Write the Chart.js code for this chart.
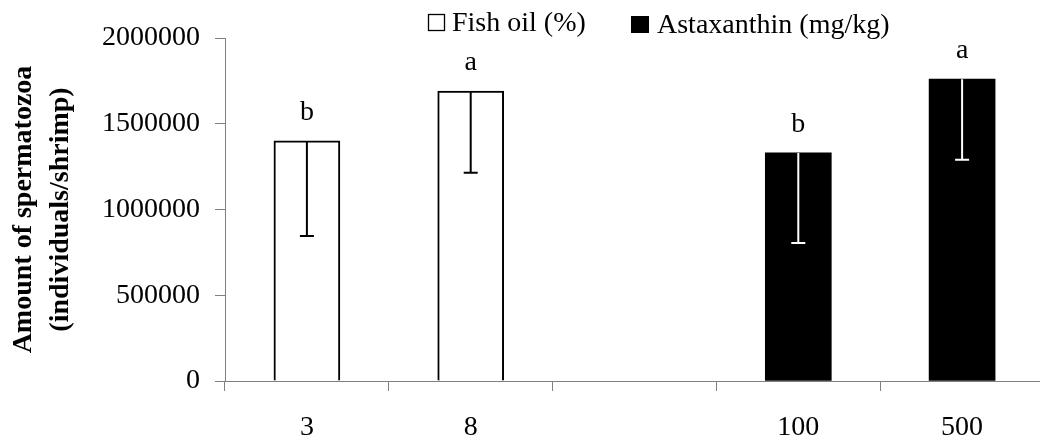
<!DOCTYPE html>
<html>
<head>
<meta charset="utf-8">
<script src="https://cdn.jsdelivr.net/npm/chart.js@4.4.1/dist/chart.umd.min.js"></script>
<style>
  html, body { margin: 0; padding: 0; background: #fff; overflow: hidden; }
  #wrap { width: 1040px; height: 441px; overflow: hidden; }
  canvas { display: block; }
</style>
</head>
<body>
<div id="wrap">
  <canvas id="c" width="1044" height="441" style="width:1044px;height:441px"></canvas>
</div>
<script>
// Dose levels on the x axis (the empty slot separates the two treatments)
const categories = ['3', '8', '', '100', '500'];

// Mean sperm count per shrimp
const fishOil = [1400000, 1690000, null, null, null];
const astaxanthin = [null, null, null, 1330000, 1760000];

// Standard deviation, drawn downward from the bar top
const fishOilErr = [555000, 475000, null, null, null];
const astaxanthinErr = [null, null, null, 525000, 470000];

// Significance letters above each bar
const fishOilLetters = ['b', 'a', null, null, null];
const astaxanthinLetters = [null, null, null, 'b', 'a'];

// Y axis ticks
const yTicks = [0, 500000, 1000000, 1500000, 2000000];

const seriesNames = ['Fish oil (%)', 'Astaxanthin (mg/kg)'];
const errors = [fishOilErr, astaxanthinErr];
const letters = [fishOilLetters, astaxanthinLetters];
const errColors = ['#000000', '#ffffff'];

const SERIF = "'Liberation Serif', 'Times New Roman', serif";
Chart.defaults.font.family = SERIF;
Chart.defaults.color = '#000';

// Error bars (downward only) and significance letters
const annotatePlugin = {
  id: 'annotate',
  afterDatasetsDraw(chart) {
    const ctx = chart.ctx;
    const y = chart.scales.y;
    chart.data.datasets.forEach((ds, di) => {
      const meta = chart.getDatasetMeta(di);
      meta.data.forEach((el, i) => {
        const v = ds.data[i];
        if (v === null || v === undefined) return;
        const top = y.getPixelForValue(v);
        const err = errors[di][i];
        if (err) {
          const bot = y.getPixelForValue(v - err);
          ctx.save();
          ctx.strokeStyle = errColors[di];
          ctx.lineWidth = 2;
          ctx.beginPath();
          ctx.moveTo(el.x, top);
          ctx.lineTo(el.x, bot);
          ctx.moveTo(el.x - 7, bot);
          ctx.lineTo(el.x + 7, bot);
          ctx.stroke();
          ctx.restore();
        }
        const lt = letters[di][i];
        if (lt) {
          ctx.save();
          ctx.fillStyle = '#000';
          ctx.font = '28px ' + SERIF;
          ctx.textAlign = 'center';
          ctx.textBaseline = 'alphabetic';
          ctx.fillText(lt, el.x, top - 21);
          ctx.restore();
        }
      });
    });
  }
};

// Legend: open square for fish oil, filled square for astaxanthin
const legendPlugin = {
  id: 'legendRow',
  afterDraw(chart) {
    const ctx = chart.ctx;
    ctx.save();
    ctx.font = '28px ' + SERIF;
    ctx.fillStyle = '#000';
    ctx.textBaseline = 'alphabetic';
    ctx.textAlign = 'left';
    ctx.strokeStyle = '#000';
    ctx.lineWidth = 1.3;
    ctx.strokeRect(428.5, 14.5, 16, 16);
    ctx.fillText(seriesNames[0], 452, 31);
    ctx.fillRect(631, 16, 18, 17);
    ctx.fillText(seriesNames[1], 657, 33);
    ctx.restore();
  }
};

new Chart(document.getElementById('c'), {
  type: 'bar',
  data: {
    labels: categories,
    datasets: [
      {
        label: seriesNames[0],
        data: fishOil,
        backgroundColor: '#ffffff',
        borderColor: '#000000',
        borderWidth: 2,
        borderSkipped: 'start'
      },
      {
        label: seriesNames[1],
        data: astaxanthin,
        backgroundColor: '#000000',
        borderColor: '#000000',
        borderWidth: 0
      }
    ]
  },
  options: {
    responsive: false,
    devicePixelRatio: 1,
    animation: false,
    datasets: { bar: { grouped: false, barThickness: 66 } },
    layout: { padding: { top: 38, left: 0, right: 0, bottom: 0 } },
    plugins: {
      legend: { display: false },
      tooltip: { enabled: false }
    },
    scales: {
      x: {
        offset: true,
        grid: {
          offset: true,
          drawOnChartArea: false,
          drawTicks: true,
          tickLength: 10,
          color: '#808080',
          lineWidth: 1
        },
        border: { display: true, color: '#808080', width: 1 },
        ticks: {
          font: { size: 28, family: SERIF },
          color: '#000',
          padding: 20,
          maxRotation: 0,
          autoSkip: false
        },
        afterFit(scale) { scale.height = 60; }
      },
      y: {
        min: yTicks[0],
        max: yTicks[yTicks.length - 1],
        afterBuildTicks(scale) { scale.ticks = yTicks.map(v => ({ value: v })); },
        grid: {
          drawOnChartArea: false,
          drawTicks: true,
          tickLength: 10,
          color: '#808080',
          lineWidth: 1
        },
        border: { display: true, color: '#808080', width: 1 },
        ticks: {
          font: { size: 28, family: SERIF },
          color: '#000',
          padding: 15,
          callback: v => String(v)
        },
        title: {
          display: true,
          text: ['Amount of spermatozoa', '(individuals/shrimp)'],
          font: { size: 28, weight: 'bold', family: SERIF, lineHeight: 1.32 },
          color: '#000',
          padding: { top: 5.5, bottom: 0 }
        },
        afterFit(scale) { scale.width = 225; }
      }
    }
  },
  plugins: [annotatePlugin, legendPlugin]
});
</script>
</body>
</html>
